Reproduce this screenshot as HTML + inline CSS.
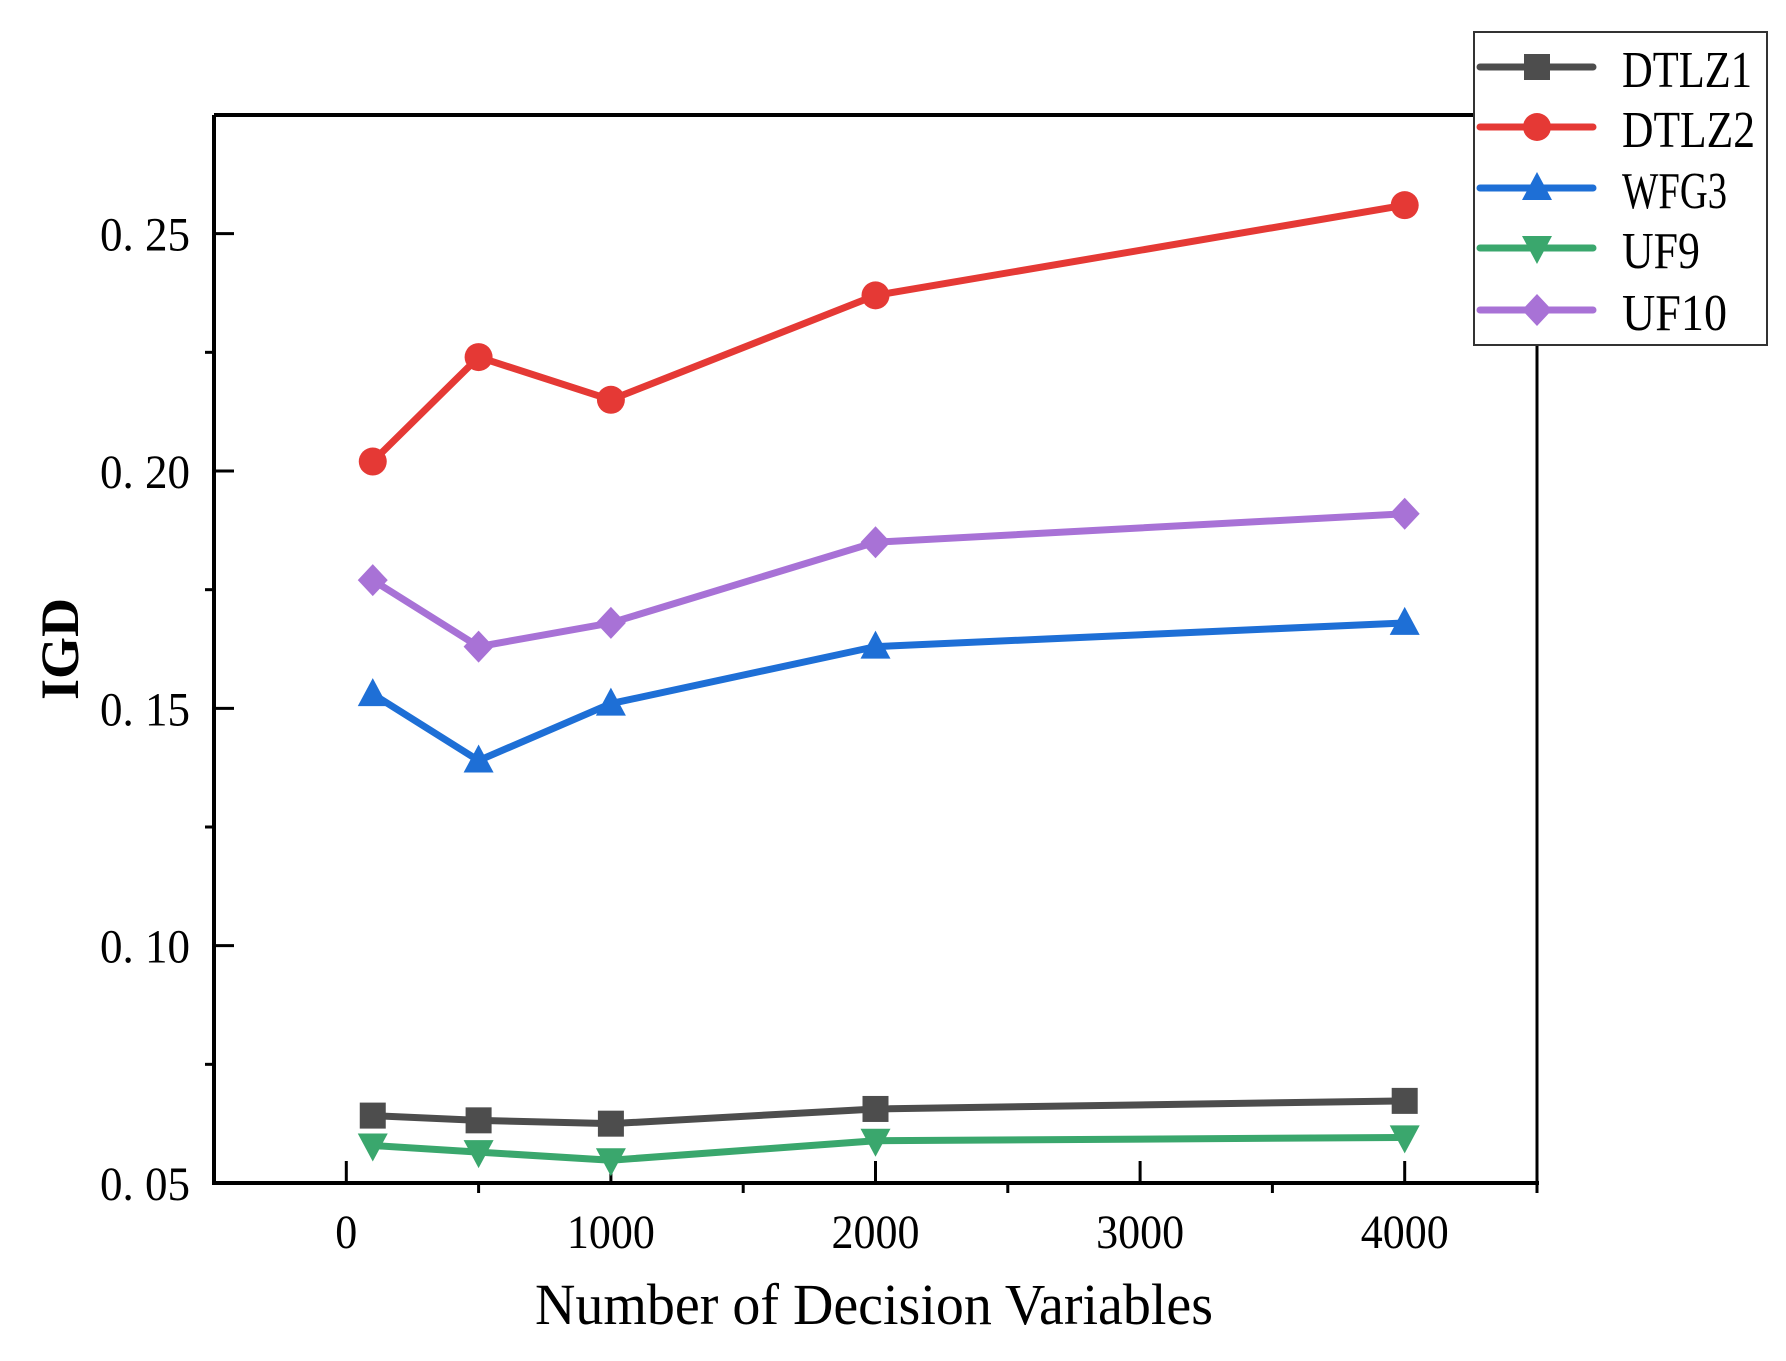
<!DOCTYPE html>
<html><head><meta charset="utf-8"><style>
html,body{margin:0;padding:0;background:#fff;}
svg{display:block;}
text{font-family:"Liberation Serif","Noto Serif CJK SC",serif;fill:#000;}
</style></head><body>
<svg id="chart" width="1786" height="1361" viewBox="0 0 1786 1361" xmlns="http://www.w3.org/2000/svg"></svg>
<script>
const xValues = [100, 500, 1000, 2000, 4000];
const seriesNames = ["DTLZ1", "DTLZ2", "WFG3", "UF9", "UF10"];
const dtlz1 = [0.0642, 0.0632, 0.0625, 0.0656, 0.0673];
const dtlz2 = [0.202, 0.224, 0.215, 0.237, 0.256];
const wfg3 = [0.153, 0.139, 0.151, 0.163, 0.168];
const uf9 = [0.0579, 0.0565, 0.0548, 0.0589, 0.0596];
const uf10 = [0.177, 0.163, 0.168, 0.185, 0.191];
const xTicks = [0, 1000, 2000, 3000, 4000];
const xMinorTicks = [500, 1500, 2500, 3500, 4500];
const yTicks = [0.05, 0.10, 0.15, 0.20, 0.25];
const yTickLabels = ["0. 05", "0. 10", "0. 15", "0. 20", "0. 25"];
const yMinorTicks = [0.075, 0.125, 0.175, 0.225];

const svg = document.getElementById('chart');
const NS = 'http://www.w3.org/2000/svg';
const L = 214, R = 1537, T = 115, B = 1183;
const xMin = -500, xMax = 4500, yMin = 0.05, yMax = 0.275;
const xs = v => L + (v - xMin) / (xMax - xMin) * (R - L);
const ys = v => B - (v - yMin) / (yMax - yMin) * (B - T);

function el(tag, attrs, parent) {
  const e = document.createElementNS(NS, tag);
  for (const k in attrs) e.setAttribute(k, attrs[k]);
  (parent || svg).appendChild(e);
  return e;
}

const frame = el('g', {});


el('line', {x1: L, y1: T, x2: R, y2: T, stroke: '#000', 'stroke-width': 4}, frame);
el('line', {x1: R, y1: T, x2: R, y2: B, stroke: '#000', 'stroke-width': 3}, frame);
el('line', {x1: L, y1: T, x2: L, y2: B + 2, stroke: '#000', 'stroke-width': 4}, frame);
el('line', {x1: L - 2, y1: B, x2: R + 2, y2: B, stroke: '#000', 'stroke-width': 4}, frame);

const xAxis = el('g', {});


xTicks.forEach(v => {
  el('line', {x1: xs(v), y1: B, x2: xs(v), y2: B - 22, stroke: '#000', 'stroke-width': 3}, xAxis);
  const s = String(v);
  const t = el('text', {x: xs(v), y: 1248, 'font-size': 48, 'text-anchor': 'middle', textLength: s.length * 22, lengthAdjust: 'spacingAndGlyphs'}, xAxis);
  
  
  t.textContent = s;
});
xMinorTicks.forEach(v => {
  el('line', {x1: xs(v), y1: B, x2: xs(v), y2: B + 10, stroke: '#000', 'stroke-width': 3}, xAxis);
});
const xt = el('text', {x: 874, y: 1324, 'font-size': 58, 'text-anchor': 'middle', textLength: 678, lengthAdjust: 'spacingAndGlyphs'});


xt.textContent = 'Number of Decision Variables';

const yAxis = el('g', {});


yTicks.forEach((v, i) => {
  el('line', {x1: L, y1: ys(v), x2: L + 20, y2: ys(v), stroke: '#000', 'stroke-width': 3}, yAxis);
  const t = el('text', {x: 190, y: ys(v) + 17, 'font-size': 48, 'text-anchor': 'end', textLength: 90, lengthAdjust: 'spacingAndGlyphs'}, yAxis);
  
  
  t.textContent = yTickLabels[i];
});
yMinorTicks.forEach(v => {
  el('line', {x1: L, y1: ys(v), x2: L - 9, y2: ys(v), stroke: '#000', 'stroke-width': 3}, yAxis);
});
const yt = el('text', {x: 0, y: 0, 'font-size': 54, 'font-weight': 'bold', 'text-anchor': 'middle', transform: 'translate(78,649) rotate(-90)'});


yt.textContent = 'IGD';

const colors = ['#4d4d4d', '#e53935', '#1e6fd6', '#3aa76d', '#a872d6'];
const shapes = ['square', 'circle', 'up', 'down', 'diamond'];
const data = [dtlz1, dtlz2, wfg3, uf9, uf10];

function marker(shape, cx, cy, color, parent) {
  const s = 13;
  if (shape === 'square') return el('rect', {x: cx - s, y: cy - s, width: 2 * s, height: 2 * s, fill: color}, parent);
  if (shape === 'circle') return el('circle', {cx, cy, r: 14, fill: color}, parent);
  if (shape === 'up') return el('polygon', {points: `${cx},${cy - 16} ${cx + 15},${cy + 12} ${cx - 15},${cy + 12}`, fill: color}, parent);
  if (shape === 'down') return el('polygon', {points: `${cx},${cy + 16} ${cx + 15},${cy - 12} ${cx - 15},${cy - 12}`, fill: color}, parent);
  return el('polygon', {points: `${cx},${cy - 16} ${cx + 15},${cy} ${cx},${cy + 16} ${cx - 15},${cy}`, fill: color}, parent);
}

data.forEach((vals, i) => {
  const g = el('g', {});
  
  
  const pts = vals.map((v, j) => xs(xValues[j]) + ',' + ys(v)).join(' ');
  el('polyline', {points: pts, fill: 'none', stroke: colors[i], 'stroke-width': 7, 'stroke-linejoin': 'round'}, g);
  vals.forEach((v, j) => {
    const m = marker(shapes[i], xs(xValues[j]), ys(v), colors[i], g);
    
    
  });
});

const lg = el('g', {});


el('rect', {x: 1474, y: 32, width: 293, height: 313, fill: '#fff', stroke: '#333', 'stroke-width': 2}, lg);
const legY = [67, 127, 188, 248, 310];
const legW = [130, 133, 105, 78, 105];
seriesNames.forEach((n, i) => {
  const e = el('g', {}, lg);
  
  
  el('line', {x1: 1480, y1: legY[i], x2: 1593, y2: legY[i], stroke: colors[i], 'stroke-width': 7, 'stroke-linecap': 'round'}, e);
  marker(shapes[i], 1537, legY[i], colors[i], e);
  const t = el('text', {x: 1622, y: legY[i] + 20, 'font-size': 52, textLength: legW[i], lengthAdjust: 'spacingAndGlyphs'}, e);
  t.textContent = n;
});
</script>
</body></html>
